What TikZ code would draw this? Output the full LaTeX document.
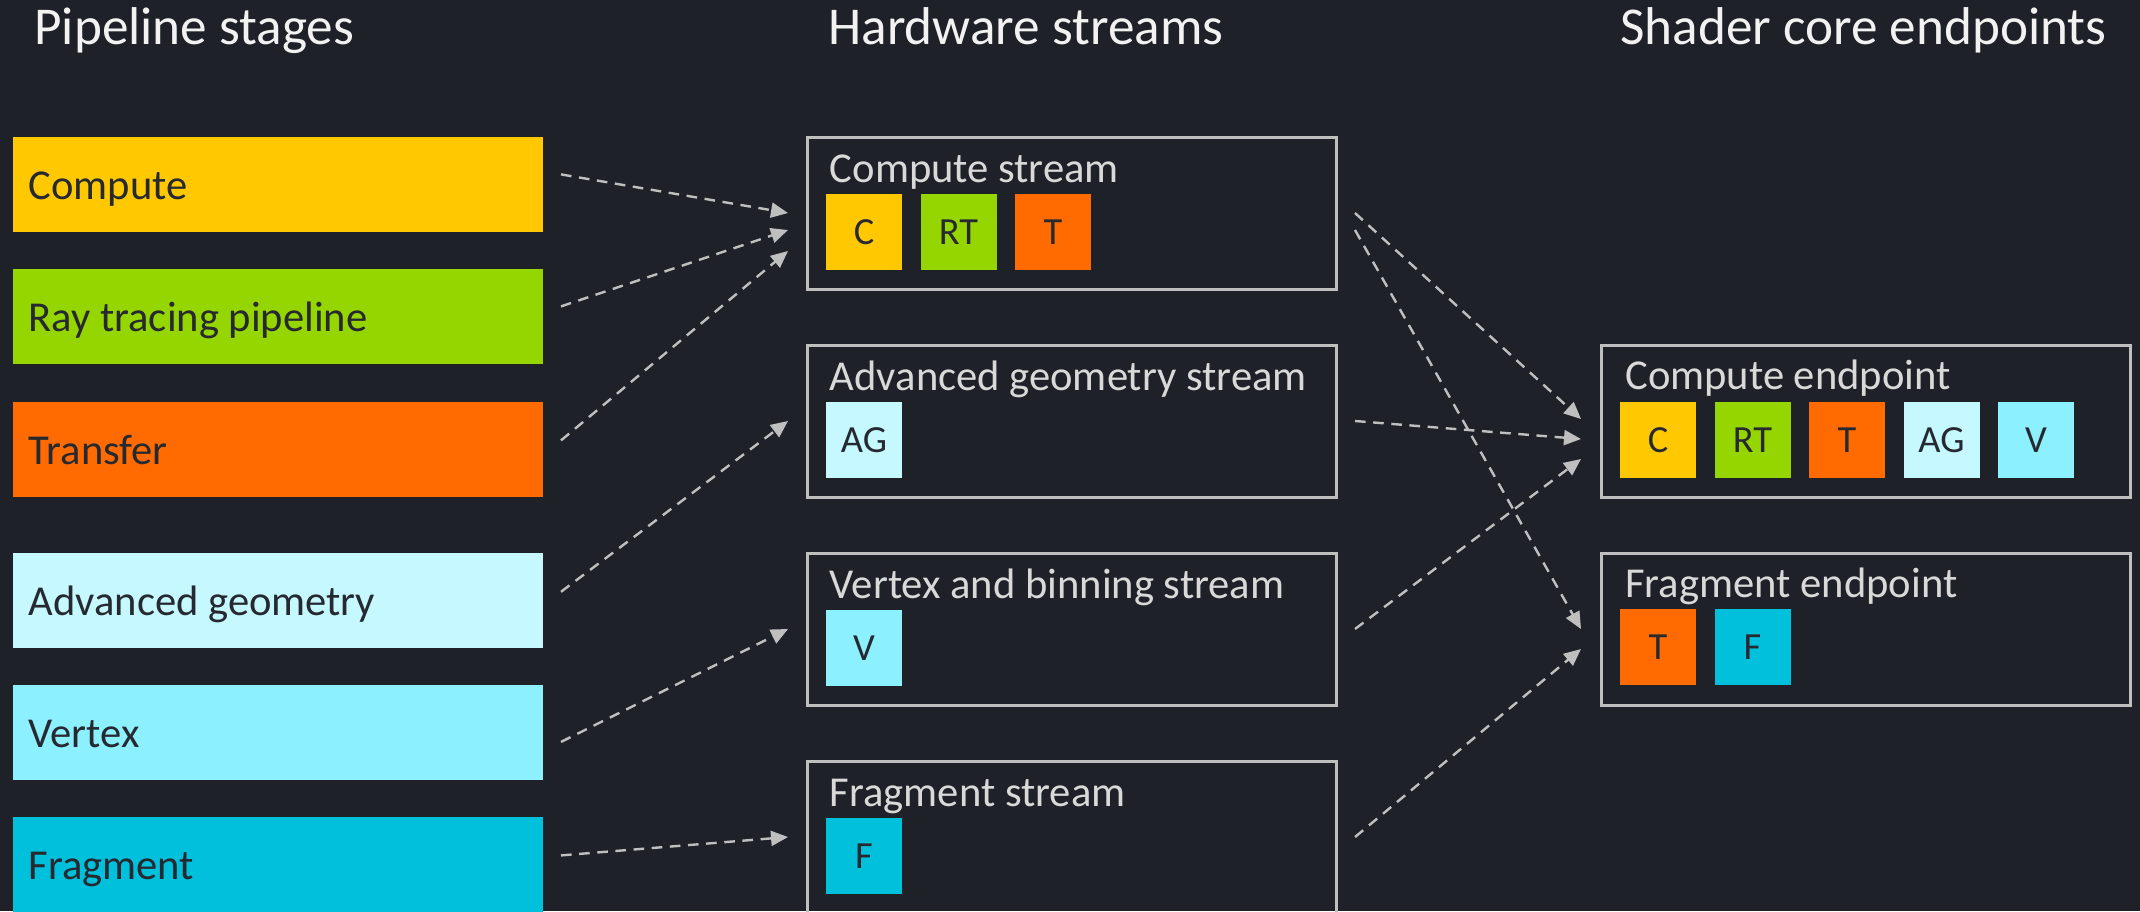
\documentclass[tikz,border=0pt]{standalone}
\usepackage{fontspec}
\setmainfont{Carlito}
\usetikzlibrary{arrows.meta,positioning}

\definecolor{bgdark}{RGB}{30,34,40}
\definecolor{inkdark}{RGB}{38,42,48}
\definecolor{framegray}{RGB}{191,191,191}
\definecolor{titlegray}{RGB}{217,217,217}
\definecolor{headwhite}{RGB}{242,242,242}
\definecolor{cmpyellow}{RGB}{255,200,0}
\definecolor{rtgreen}{RGB}{150,214,0}
\definecolor{xferorange}{RGB}{255,107,0}
\definecolor{agcyan}{RGB}{198,248,255}
\definecolor{vtxcyan}{RGB}{140,240,255}
\definecolor{fragblue}{RGB}{0,192,220}

\tikzset{
  stage/.style={fill=#1, anchor=north west, inner xsep=7.8pt, inner ysep=0pt, outer sep=0pt,
    text width=249.4pt, align=flush left, minimum height=47.4pt, text=inkdark,
    font=\fontsize{21.3}{24}\selectfont, text height=15.3pt, text depth=0pt},
  lane/.style={draw=framegray, line width=1.5pt, anchor=north west, inner sep=0pt, outer sep=0pt,
    minimum width=264.25pt, minimum height=76pt},
  lanetitle/.style={anchor=base west, inner sep=0pt, text=titlegray, font=\fontsize{21.3}{24}\selectfont},
  heading/.style={anchor=base west, inner sep=0pt, text=headwhite, font=\fontsize{26.6}{30}\selectfont},
  chip/.style={fill=#1, minimum size=38pt, inner sep=0pt, outer sep=0pt, text=inkdark,
    font=\fontsize{19.2}{22}\selectfont, text height=12.1pt, text depth=0pt},
  flow/.style={draw=framegray, line width=1.2pt, dash pattern=on 5.3pt off 3.8pt,
    -{Triangle[length=8.5pt,width=7.5pt]}}
}

\begin{document}
\begin{tikzpicture}[x=0.5pt, y=-0.5pt, node distance=9.25pt]
% Canvas
\useasboundingbox (0,0) rectangle (2140,911);
\fill[bgdark] (0,0) rectangle (2140,911);

% Column headings
\node[heading] (hstages) at (34,44) {Pipeline stages};
\node[heading] (hstreams) at (828,44) {Hardware streams};
\node[heading] (hendpts) at (1620,44) {Shader core endpoints};

% Pipeline stages
\node[stage=cmpyellow] (cmp) at (13,137) {Compute};
\node[stage=rtgreen] (ray) at (13,269) {Ray tracing pipeline};
\node[stage=xferorange] (xfer) at (13,402) {Transfer};
\node[stage=agcyan] (ag) at (13,553) {Advanced geometry};
\node[stage=vtxcyan] (vtx) at (13,685) {Vertex};
\node[stage=fragblue] (frag) at (13,817) {Fragment};

% Hardware streams
\node[lane] (cstr) at (807.5,137) {};
\node[lanetitle] at ([xshift=11pt,yshift=-22.5pt]cstr.north west) {Compute stream};
\node[chip=cmpyellow, anchor=north west] (cstrC) at ([xshift=9.25pt,yshift=-28.5pt]cstr.north west) {C};
\node[chip=rtgreen, right=of cstrC] (cstrRT) {RT};
\node[chip=xferorange, right=of cstrRT] (cstrT) {T};

\node[lane] (agstr) at (807.5,345) {};
\node[lanetitle] at ([xshift=11pt,yshift=-22.5pt]agstr.north west) {Advanced geometry stream};
\node[chip=agcyan, anchor=north west] (agstrAG) at ([xshift=9.25pt,yshift=-28.5pt]agstr.north west) {AG};

\node[lane] (vstr) at (807.5,553) {};
\node[lanetitle] at ([xshift=11pt,yshift=-22.5pt]vstr.north west) {Vertex and binning stream};
\node[chip=vtxcyan, anchor=north west] (vstrV) at ([xshift=9.25pt,yshift=-28.5pt]vstr.north west) {V};

% (runs past the lower edge)
\node[lane, minimum height=80pt] (fstr) at (807.5,761) {};
\node[lanetitle] at ([xshift=11pt,yshift=-22.5pt]fstr.north west) {Fragment stream};
\node[chip=fragblue, anchor=north west] (fstrF) at ([xshift=9.25pt,yshift=-28.5pt]fstr.north west) {F};

% Shader core endpoints
\node[lane, minimum width=264.5pt] (cep) at (1601,345) {};
\node[lanetitle] at ([xshift=12pt,yshift=-22pt]cep.north west) {Compute endpoint};
\node[chip=cmpyellow, anchor=north west] (cepC) at ([xshift=9.5pt,yshift=-28.5pt]cep.north west) {C};
\node[chip=rtgreen, right=of cepC] (cepRT) {RT};
\node[chip=xferorange, right=of cepRT] (cepT) {T};
\node[chip=agcyan, right=of cepT] (cepAG) {AG};
\node[chip=vtxcyan, right=of cepAG] (cepV) {V};

\node[lane, minimum width=264.5pt] (fep) at (1601,553) {};
\node[lanetitle] at ([xshift=12pt,yshift=-22pt]fep.north west) {Fragment endpoint};
\node[chip=xferorange, anchor=north west] (fepT) at ([xshift=9.5pt,yshift=-28pt]fep.north west) {T};
\node[chip=fragblue, right=of fepT] (fepF) {F};

% Stages to streams
\draw[flow] ([xshift=9pt,yshift=5pt]cmp.east) -- ([xshift=-9.75pt]cstr.west);
\draw[flow] ([xshift=9pt,yshift=5pt]ray.east) -- ([xshift=-9.75pt,yshift=-8.5pt]cstr.west);
\draw[flow] ([xshift=9pt,yshift=4.5pt]xfer.east) -- ([xshift=-9.75pt,yshift=-19pt]cstr.west);
\draw[flow] ([xshift=9pt,yshift=4.3pt]ag.east) -- ([xshift=-9.75pt]agstr.west);
\draw[flow] ([xshift=9pt,yshift=-4.75pt]vtx.east) -- ([xshift=-9.75pt]vstr.west);
\draw[flow] ([xshift=9pt,yshift=4.5pt]frag.east) -- ([xshift=-9.75pt,yshift=2pt]fstr.west);

% Streams to endpoints
\draw[flow] ([xshift=9.5pt]cstr.east) -- ([xshift=-10pt,yshift=1pt]cep.west);
\draw[flow] ([xshift=9.5pt,yshift=-8.5pt]cstr.east) -- ([xshift=-10pt]fep.west);
\draw[flow] ([xshift=9.5pt]agstr.east) -- ([xshift=-10pt,yshift=-9pt]cep.west);
\draw[flow] ([xshift=9.5pt]vstr.east) -- ([xshift=-10pt,yshift=-19pt]cep.west);
\draw[flow] ([xshift=9.5pt,yshift=2pt]fstr.east) -- ([xshift=-10pt,yshift=-10pt]fep.west);
\end{tikzpicture}
\end{document}
